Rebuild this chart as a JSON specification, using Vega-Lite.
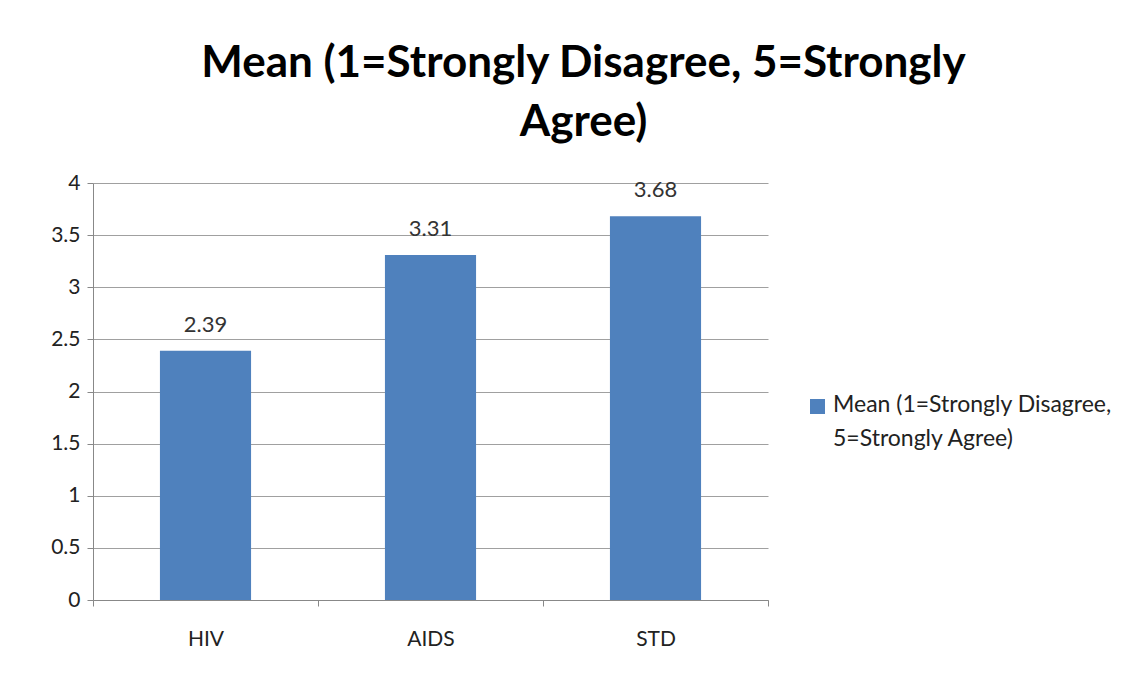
{
  "$schema": "https://vega.github.io/schema/vega-lite/v6.json",
  "autosize": {"type": "none"},
  "width": 675,
  "height": 417,
  "padding": {"left": 93, "top": 183, "right": 378, "bottom": 77},
  "background": "white",
  "config": {
    "font": "Lato",
    "view": {"stroke": null}
  },
  "title": {
    "text": ["Mean (1=Strongly Disagree, 5=Strongly", "Agree)"],
    "font": "Lato",
    "fontSize": 44,
    "fontWeight": "bold",
    "color": "#000000",
    "lineHeight": 59,
    "anchor": "middle",
    "frame": "group",
    "dx": 153,
    "offset": 27
  },
  "data": {
    "values": [
      {"topic": "HIV", "mean": 2.39, "series": "Mean (1=Strongly Disagree, 5=Strongly Agree)"},
      {"topic": "AIDS", "mean": 3.31, "series": "Mean (1=Strongly Disagree, 5=Strongly Agree)"},
      {"topic": "STD", "mean": 3.68, "series": "Mean (1=Strongly Disagree, 5=Strongly Agree)"}
    ]
  },
  "encoding": {
    "x": {
      "field": "topic",
      "type": "nominal",
      "sort": ["HIV", "AIDS", "STD"],
      "scale": {"paddingInner": 0, "paddingOuter": 0},
      "axis": {
        "title": null,
        "labelAngle": 0,
        "labelFont": "Lato",
        "labelFontSize": 21,
        "labelColor": "#222222",
        "labelPadding": 22,
        "domainColor": "#888888",
        "tickColor": "#888888",
        "tickBand": "extent",
        "tickSize": 6,
        "grid": false
      }
    },
    "y": {
      "field": "mean",
      "type": "quantitative",
      "scale": {"domain": [0, 4], "nice": false},
      "axis": {
        "title": null,
        "values": [0, 0.5, 1, 1.5, 2, 2.5, 3, 3.5, 4],
        "format": "~g",
        "labelFont": "Lato",
        "labelFontSize": 21,
        "labelColor": "#222222",
        "labelPadding": 7,
        "domainColor": "#888888",
        "tickColor": "#888888",
        "tickSize": 6,
        "gridColor": "#a0a0a0",
        "gridWidth": 1
      }
    }
  },
  "layer": [
    {
      "mark": {"type": "bar", "color": "#4F81BD", "width": {"band": 0.405}},
      "encoding": {
        "color": {
          "field": "series",
          "type": "nominal",
          "scale": {"range": ["#4F81BD"]},
          "legend": {
            "title": null,
            "orient": "none",
            "legendX": 713,
            "legendY": 212,
            "symbolType": "square",
            "symbolSize": 225,
            "symbolStrokeWidth": 0,
            "labelFont": "Lato",
            "labelFontSize": 23,
            "labelColor": "#222222",
            "labelLimit": 400,
            "labelBaseline": "top",
            "labelOffset": 4,
            "labelExpr": "['Mean (1=Strongly Disagree,', '5=Strongly Agree)']",
            "encode": {"labels": {"update": {"dy": {"value": -13}, "lineHeight": {"value": 34}}}}
          }
        }
      }
    },
    {
      "mark": {"type": "text", "baseline": "bottom", "dy": -14, "fontSize": 22, "font": "Lato", "color": "#333333"},
      "encoding": {
        "text": {"field": "mean", "type": "quantitative", "format": ".2f"}
      }
    }
  ]
}
